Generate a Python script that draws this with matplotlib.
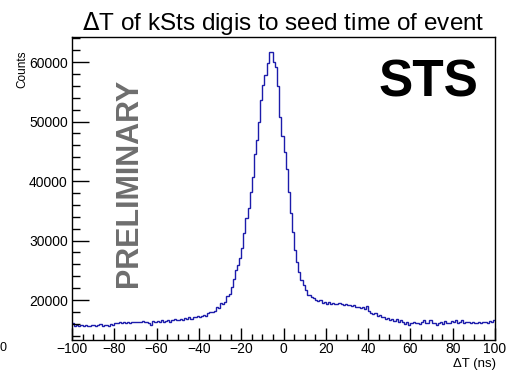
import numpy as np
import matplotlib
matplotlib.use("Agg")
import matplotlib.pyplot as plt
from matplotlib.ticker import MultipleLocator

plt.rcParams['font.family'] = ['Liberation Sans', 'DejaVu Sans']

# 1 ns bins from -100 ns to +100 ns
bin_lo = -100
bin_hi = 100
counts = [
    16100, 15700, 15800, 15600, 15900, 15700, 15800, 15600, 15700, 15900,   # -100 .. -91
    15800, 15700, 15900, 16000, 15600, 15900, 15800, 15700, 16000, 15900,   # -90 .. -81
    16200, 16100, 16300, 16200, 16400, 16200, 16300, 16100, 16400, 16300,   # -80 .. -71
    16400, 16300, 16400, 16500, 16300, 16400, 16200, 15800, 16500, 16400,   # -70 .. -61
    16500, 16400, 16600, 16300, 16500, 16700, 16400, 16600, 16800, 16600,   # -60 .. -51
    16700, 16900, 16700, 17000, 16800, 17100, 16900, 17200, 17100, 17300,   # -50 .. -41
    17200, 17400, 17500, 17400, 17800, 18000, 18000, 18100, 18900, 18700,   # -40 .. -31
    19500, 19400, 19700, 20700, 21000, 22200, 23600, 25000, 25900, 27000,   # -30 .. -21
    28700, 31200, 33800, 35500, 38200, 40700, 44600, 46900, 50000, 53600,   # -20 .. -11
    56200, 57900, 59900, 61600, 61700, 60000, 59200, 55900, 50800, 47500,   # -10 .. -1
    44800, 42000, 38200, 34600, 31500, 28500, 26400, 24800, 23400, 22500,   # 0 .. 9
    21700, 20900, 20800, 20600, 20300, 20000, 19800, 20100, 19500, 19700,   # 10 .. 19
    19400, 19600, 19300, 19500, 19400, 19300, 19500, 19300, 19200, 19300,   # 20 .. 29
    19100, 19200, 19000, 19100, 18900, 18900, 18700, 18800, 18500, 19000,   # 30 .. 39
    18200, 17900, 17600, 17800, 17400, 17500, 17100, 17200, 16900, 17000,   # 40 .. 49
    16700, 16900, 16500, 16800, 16400, 16600, 16300, 16000, 16400, 15900,   # 50 .. 59
    16200, 16300, 16100, 16200, 16000, 16300, 16700, 16100, 16200, 16600,   # 60 .. 69
    16100, 16200, 15900, 16100, 16400, 16000, 16500, 16100, 16200, 16500,   # 70 .. 79
    16300, 16600, 16100, 16300, 16700, 16200, 16400, 16300, 16200, 16400,   # 80 .. 89
    16200, 16100, 16300, 16200, 16400, 16300, 16200, 16500, 16400, 16700,   # 90 .. 99
]
edges = np.linspace(bin_lo, bin_hi, len(counts) + 1)

fig = plt.figure(figsize=(5.08, 3.70), dpi=100)
ax = fig.add_axes([72 / 508, 30 / 370, 423 / 508, 303 / 370])

ax.stairs(counts, edges, baseline=None, color='#1c1cab', lw=1.0)

ax.set_xlim(bin_lo, bin_hi)
ax.set_ylim(13300, 64200)

ax.xaxis.set_major_locator(MultipleLocator(20))
ax.xaxis.set_minor_locator(MultipleLocator(5))
ax.yaxis.set_major_locator(MultipleLocator(10000))
ax.yaxis.set_minor_locator(MultipleLocator(2000))
ax.tick_params(axis='both', which='both', direction='in', top=False, right=False,
               labelsize=10, width=1.0)
ax.tick_params(axis='x', which='major', length=9, pad=1.5)
ax.tick_params(axis='x', which='minor', length=4.5)
ax.tick_params(axis='y', which='major', length=12, pad=3)
ax.tick_params(axis='y', which='minor', length=6)
for sp in ax.spines.values():
    sp.set_linewidth(1.0)

ax.set_title(r'$\Delta$T of kSts digis to seed time of event', fontsize=17.5, pad=5)
fig.text(496 / 508, 1 - 369.5 / 370, 'ΔT (ns)', ha='right', va='bottom', fontsize=9.5)
fig.text(22 / 508, 1 - 50 / 370, 'Counts', ha='center', va='top', rotation=90, fontsize=8.5)

ax.text(0.135, 0.52, 'PRELIMINARY', transform=ax.transAxes, rotation=90,
        ha='center', va='center', fontsize=22, fontweight='bold', color='#6e6e6e')
ax.text(0.96, 0.93, 'STS', transform=ax.transAxes, ha='right', va='top',
        fontsize=37, fontweight='bold', color='black')

# stray label at the left edge of the canvas
fig.text(0, 1 - 348 / 370, '0', ha='left', va='center', fontsize=9)

fig.savefig('out.png', dpi=100)
